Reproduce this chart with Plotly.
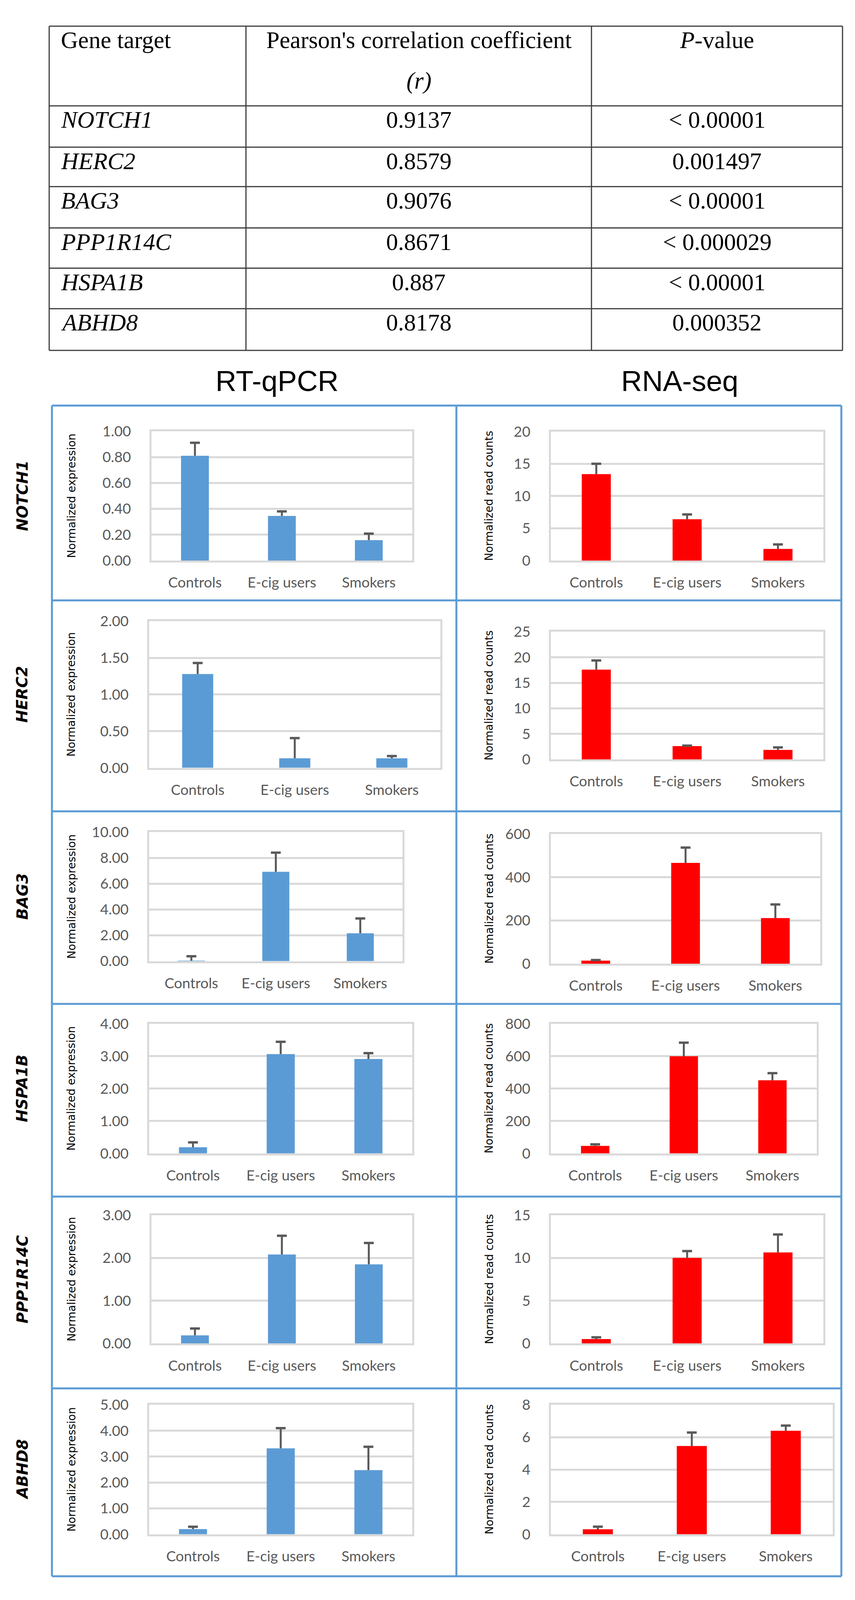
import plotly.graph_objects as go

# reference picture size; the visible page is a bit shorter, so the figure
# height is reduced and everything is placed in fractions of the reference
W, H = 2190, 4323
FIG_H = 4090

# ---- table values ----
table_genes = ["NOTCH1", "HERC2", "BAG3", "PPP1R14C", "HSPA1B", "ABHD8"]
table_r = ["0.9137", "0.8579", "0.9076", "0.8671", "0.887", "0.8178"]
table_p = ["< 0.00001", "0.001497", "< 0.00001", "< 0.000029", "< 0.00001", "0.000352"]

# ---- bar chart values (mean, upper error) ----
groups = ["Controls", "E-cig users", "Smokers"]
genes = ["NOTCH1", "HERC2", "BAG3", "HSPA1B", "PPP1R14C", "ABHD8"]

qpcr_mean = [
    [0.81, 0.345, 0.158],
    [1.28, 0.13, 0.13],
    [0.03, 6.93, 2.16],
    [0.19, 3.06, 2.91],
    [0.19, 2.08, 1.85],
    [0.20, 3.32, 2.48],
]
qpcr_err = [
    [0.10, 0.035, 0.05],
    [0.15, 0.275, 0.03],
    [0.35, 1.48, 1.15],
    [0.15, 0.38, 0.18],
    [0.16, 0.44, 0.50],
    [0.09, 0.78, 0.90],
]
seq_mean = [
    [13.4, 6.4, 1.8],
    [17.6, 2.6, 1.85],
    [14, 466, 211],
    [46, 599, 451],
    [0.52, 10.0, 10.64],
    [0.31, 5.46, 6.40],
]
seq_err = [
    [1.6, 0.75, 0.7],
    [1.8, 0.1, 0.5],
    [3, 71, 63],
    [10, 84, 44],
    [0.2, 0.8, 2.1],
    [0.16, 0.83, 0.32],
]
qpcr_ymax = [1, 2, 10, 4, 3, 5]
qpcr_dtick = [0.2, 0.5, 2, 1, 1, 1]
seq_ymax = [20, 25, 600, 800, 15, 8]
seq_dtick = [5, 5, 200, 200, 5, 2]

# plot areas in reference pixels: (x0, x1, ytop, ybottom)
left_boxes = [(388, 1056, 1154, 1508), (382, 1128, 1674, 2075), (382, 1031, 2251, 2604),
              (382, 1056, 2775, 3130), (388, 1056, 3299, 3650), (382, 1056, 3818, 4172)]
right_boxes = [(1411, 2109, 1155, 1508), (1411, 2109, 1703, 2052), (1411, 2101, 2256, 2611),
               (1411, 2092, 2775, 3130), (1411, 2109, 3299, 3650), (1411, 2133, 3818, 4172)]

BLUE = "#5B9BD5"
RED = "#FF0000"
GRID = "#D9D9D9"
TICK = "#595959"


def px(x):
    return x / W


def py(y):
    return 1 - y / H


fig = go.Figure()
annotations = []
shapes = []

n = 0
for i, g in enumerate(genes):
    for side in range(2):
        n += 1
        if side == 0:
            vals, errs, col = qpcr_mean[i], qpcr_err[i], BLUE
            ymax, dt, fmt, box = qpcr_ymax[i], qpcr_dtick[i], ".2f", left_boxes[i]
            ttl, tx = "Normalized expression", 183
        else:
            vals, errs, col = seq_mean[i], seq_err[i], RED
            ymax, dt, fmt, box = seq_ymax[i], seq_dtick[i], "", right_boxes[i]
            ttl, tx = "Normalized read counts", 1253
        xa, ya = "x%d" % n, "y%d" % n
        fig.add_trace(go.Bar(
            x=groups, y=vals, width=0.32, marker=dict(color=col, line=dict(width=0)),
            xaxis=xa, yaxis=ya, showlegend=False))
        # upper error bars only: stem from bar top plus a cap
        ex, ey = [], []
        tops = [v + e for v, e in zip(vals, errs)]
        for grp, v, t in zip(groups, vals, tops):
            ex += [grp, grp, None]
            ey += [v, t, None]
        fig.add_trace(go.Scatter(
            x=ex, y=ey, mode="lines", line=dict(color=TICK, width=5),
            xaxis=xa, yaxis=ya, showlegend=False, hoverinfo="skip"))
        fig.add_trace(go.Scatter(
            x=groups, y=tops, mode="markers",
            marker=dict(symbol="line-ew", size=18, line=dict(color=TICK, width=6)),
            xaxis=xa, yaxis=ya, showlegend=False, hoverinfo="skip"))
        x0, x1, yt, yb = box
        fig.layout["xaxis%d" % n] = dict(
            domain=[px(x0), px(x1)], anchor=ya, showline=True, mirror=True,
            linecolor=GRID, linewidth=5, showgrid=False, ticks="",
            tickfont=dict(family="Lato", size=37, color=TICK), ticklabelstandoff=20,
            fixedrange=True)
        fig.layout["yaxis%d" % n] = dict(
            domain=[py(yb), py(yt)], anchor=xa, range=[0, ymax], dtick=dt,
            tickformat=fmt, showline=True, mirror=True, linecolor=GRID, linewidth=5,
            showgrid=True, gridcolor=GRID, gridwidth=5, zeroline=False, ticks="",
            tickfont=dict(family="Lato", size=37, color=TICK), ticklabelstandoff=40,
            fixedrange=True)
        annotations.append(dict(
            x=px(tx), y=py((yt + yb) / 2), xref="paper", yref="paper", text=ttl,
            textangle=-90, showarrow=False, xanchor="center", yanchor="middle",
            font=dict(family="DejaVu Sans", size=28, color="black")))
    lb = left_boxes[i]
    annotations.append(dict(
        x=px(57), y=py((lb[2] + lb[3]) / 2), xref="paper", yref="paper",
        text="<b><i>%s</i></b>" % g, textangle=-90, showarrow=False,
        xanchor="center", yanchor="middle",
        font=dict(family="DejaVu Sans", size=39, color="black")))

# blue frame around charts
row_lines = [1084, 1617, 2194, 2721, 3248, 3773, 4287]
for yl in row_lines:
    shapes.append(dict(type="line", xref="paper", yref="paper", x0=px(133), x1=px(2155),
                       y0=py(yl), y1=py(yl), line=dict(color=BLUE, width=5)))
for xl in [133, 1169, 2155]:
    shapes.append(dict(type="line", xref="paper", yref="paper", x0=px(xl), x1=px(xl),
                       y0=py(1084), y1=py(4287), line=dict(color=BLUE, width=5)))

# section titles
for txt, cx in [("RT-qPCR", 709), ("RNA-seq", 1741)]:
    annotations.append(dict(x=px(cx), y=py(1017), xref="paper", yref="paper", text=txt,
                            showarrow=False, xanchor="center", yanchor="middle",
                            font=dict(family="Liberation Sans", size=74, color="black")))

# table
tcol = [126, 630, 1515, 2158]
trow = [46, 264, 377, 485, 598, 708, 819, 933]
for yl in trow:
    shapes.append(dict(type="line", xref="paper", yref="paper", x0=px(tcol[0]), x1=px(tcol[-1]),
                       y0=py(yl), y1=py(yl), line=dict(color="#3c3c3c", width=3)))
for xl in tcol:
    shapes.append(dict(type="line", xref="paper", yref="paper", x0=px(xl), x1=px(xl),
                       y0=py(trow[0]), y1=py(trow[-1]), line=dict(color="#3c3c3c", width=3)))

tfont = dict(family="Liberation Serif", size=61, color="black")
c1, c2 = (tcol[1] + tcol[2]) / 2, (tcol[2] + tcol[3]) / 2
header = [("Gene target", 154, 84, "left"),
          ("Pearson's correlation coefficient", c1, 84, "center"),
          ("<i>(r)</i>", c1, 196, "center"),
          ("<i>P</i>-value", c2, 84, "center")]
for txt, hx, hy, anc in header:
    annotations.append(dict(x=px(hx), y=py(hy), xref="paper", yref="paper", text=txt,
                            showarrow=False, xanchor=anc, yanchor="middle", font=tfont))
for k in range(len(table_genes)):
    ry = trow[k + 1] + 38
    annotations.append(dict(x=px(154), y=py(ry), xref="paper", yref="paper",
                            text="<i>%s</i>" % table_genes[k], showarrow=False,
                            xanchor="left", yanchor="middle", font=tfont))
    annotations.append(dict(x=px(c1), y=py(ry), xref="paper", yref="paper", text=table_r[k],
                            showarrow=False, xanchor="center", yanchor="middle", font=tfont))
    annotations.append(dict(x=px(c2), y=py(ry), xref="paper", yref="paper", text=table_p[k],
                            showarrow=False, xanchor="center", yanchor="middle", font=tfont))

fig.update_layout(
    width=W, height=FIG_H, margin=dict(l=0, r=0, t=0, b=0),
    paper_bgcolor="white", plot_bgcolor="white",
    annotations=annotations, shapes=shapes, showlegend=False,
)

fig.write_html("out.html", config={"displayModeBar": False},
               post_script="document.body.style.margin='0';")
